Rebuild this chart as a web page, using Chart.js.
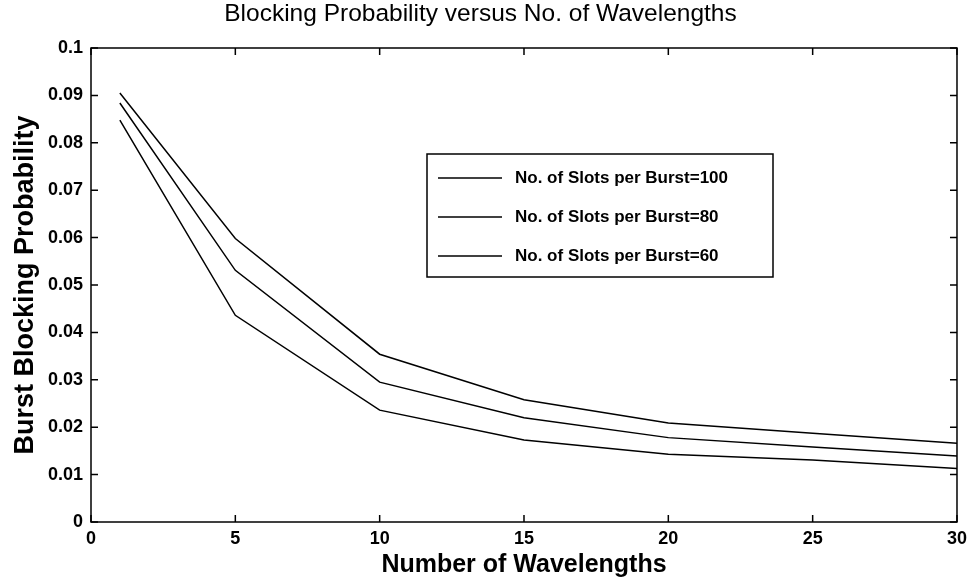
<!DOCTYPE html>
<html>
<head>
<meta charset="utf-8">
<script src="https://cdn.jsdelivr.net/npm/chart.js@4/dist/chart.umd.min.js"></script>
<style>
  html, body { margin: 0; padding: 0; background: #fff; }
  #wrap { width: 973px; height: 580px; }
</style>
</head>
<body>
<div id="wrap"><canvas id="blockingChart"></canvas></div>
<script>
// DATA
const wavelengths = [1, 5, 10, 15, 20, 25, 30];
const slots100 = [0.0905, 0.0598, 0.0354, 0.0258, 0.0209, 0.0187, 0.0166];
const slots80 = [0.0884, 0.0531, 0.0295, 0.0220, 0.0178, 0.0158, 0.0139];
const slots60 = [0.0848, 0.0436, 0.0236, 0.0173, 0.0143, 0.0131, 0.0113];
const seriesLabels = [
  'No. of Slots per Burst=100',
  'No. of Slots per Burst=80',
  'No. of Slots per Burst=60'
];
const xTicks = [0, 5, 10, 15, 20, 25, 30];
const yTicks = [0, 0.01, 0.02, 0.03, 0.04, 0.05, 0.06, 0.07, 0.08, 0.09, 0.1];

const FONT = '"Liberation Sans", Arial, Helvetica, sans-serif';

function toPoints(values) {
  return values.map((v, i) => ({ x: wavelengths[i], y: v }));
}

// BOX AROUND AXES, INWARD TICKS, LEGEND INSIDE THE PLOT
const framePlugin = {
  id: 'frame',
  afterDatasetsDraw(chart) {
    const { ctx, chartArea: a, scales: { x, y } } = chart;
    ctx.save();
    ctx.strokeStyle = '#000';
    ctx.lineWidth = 1.5;
    ctx.strokeRect(a.left, a.top, a.right - a.left, a.bottom - a.top);

    ctx.beginPath();
    x.ticks.forEach((t) => {
      const px = x.getPixelForValue(t.value);
      ctx.moveTo(px, a.bottom); ctx.lineTo(px, a.bottom - 7);
      ctx.moveTo(px, a.top); ctx.lineTo(px, a.top + 7);
    });
    y.ticks.forEach((t) => {
      const py = y.getPixelForValue(t.value);
      ctx.moveTo(a.left, py); ctx.lineTo(a.left + 7, py);
      ctx.moveTo(a.right, py); ctx.lineTo(a.right - 7, py);
    });
    ctx.stroke();

    // legend box
    const lx = a.left + 336, ly = a.top + 106, lw = 346, lh = 123;
    ctx.fillStyle = '#fff';
    ctx.fillRect(lx, ly, lw, lh);
    ctx.strokeRect(lx, ly, lw, lh);
    ctx.font = 'bold 17px ' + FONT;
    ctx.textBaseline = 'middle';
    ctx.textAlign = 'left';
    chart.data.datasets.forEach((ds, i) => {
      const ry = ly + 24 + i * 39;
      ctx.beginPath();
      ctx.strokeStyle = ds.borderColor;
      ctx.lineWidth = ds.borderWidth;
      ctx.moveTo(lx + 11, ry);
      ctx.lineTo(lx + 75, ry);
      ctx.stroke();
      ctx.fillStyle = '#000';
      ctx.fillText(ds.label, lx + 88, ry);
    });
    ctx.restore();
  }
};

const canvas = document.getElementById('blockingChart');
new Chart(canvas, {
  type: 'line',
  data: {
    datasets: [slots100, slots80, slots60].map((vals, i) => ({
      label: seriesLabels[i],
      data: toPoints(vals),
      borderColor: '#000',
      borderWidth: 1.5,
      pointRadius: 0,
      tension: 0,
      fill: false
    }))
  },
  options: {
    responsive: true,
    maintainAspectRatio: false,
    animation: false,
    layout: { padding: { left: 0, right: 12, top: 0, bottom: 0 } },
    plugins: {
      legend: { display: false },
      tooltip: { enabled: false },
      title: {
        display: true,
        text: 'Blocking Probability versus No. of Wavelengths',
        color: '#000',
        font: { family: FONT, size: 24.5, weight: 'normal' },
        padding: { top: 0, bottom: 18.6 }
      }
    },
    scales: {
      x: {
        type: 'linear',
        min: 0,
        max: 30,
        afterFit: (s) => { s.height = 58; },
        afterBuildTicks: (s) => { s.ticks = xTicks.map((v) => ({ value: v })); },
        grid: { display: false, drawTicks: false },
        border: { display: false },
        ticks: {
          color: '#000',
          padding: 6,
          autoSkip: false,
          maxRotation: 0,
          font: { family: FONT, size: 18, weight: 'bold' }
        },
        title: {
          display: true,
          text: 'Number of Wavelengths',
          color: '#000',
          padding: { top: 0, bottom: 0 },
          font: { family: FONT, size: 25, weight: 'bold' }
        }
      },
      y: {
        min: 0,
        max: 0.1,
        afterFit: (s) => { s.width = 91; },
        afterBuildTicks: (s) => { s.ticks = yTicks.map((v) => ({ value: v })); },
        grid: { display: false, drawTicks: false },
        border: { display: false },
        ticks: {
          color: '#000',
          padding: 8,
          autoSkip: false,
          font: { family: FONT, size: 18, weight: 'bold' },
          callback: (value) => String(+value.toFixed(2))
        },
        title: {
          display: true,
          text: 'Burst Blocking Probability',
          color: '#000',
          padding: { top: 9, bottom: 0 },
          font: { family: FONT, size: 27, weight: 'bold' }
        }
      }
    }
  },
  plugins: [framePlugin]
});
</script>
</body>
</html>
